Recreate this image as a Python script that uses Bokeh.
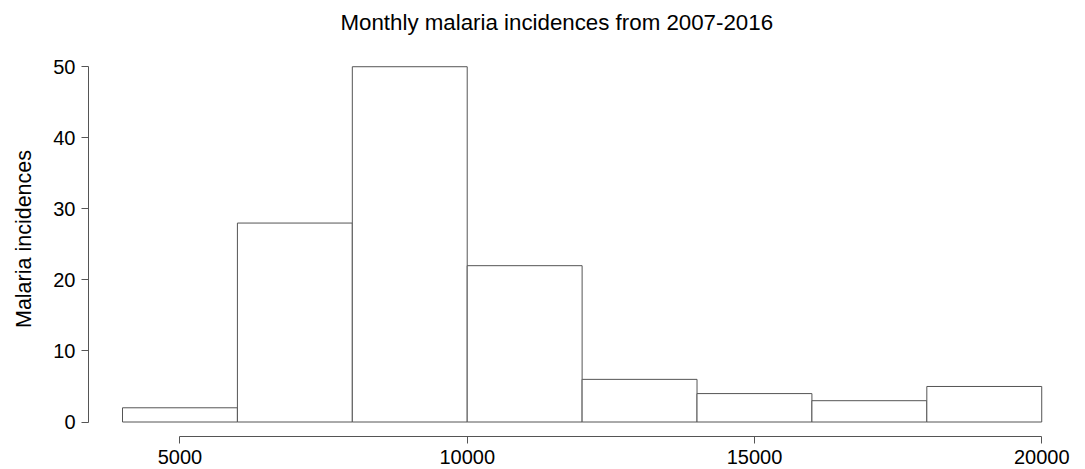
from bokeh.plotting import figure
from bokeh.models import LinearAxis, FixedTicker, Range1d
from bokeh.embed import file_html
from bokeh.resources import INLINE

# Data
bin_edges = [4000, 6000, 8000, 10000, 12000, 14000, 16000, 18000, 20000]
counts = [2, 28, 50, 22, 6, 4, 3, 5]
x_ticks = [5000, 10000, 15000, 20000]
y_ticks = [0, 10, 20, 30, 40, 50]

FONT = "Liberation Sans"
LINE = "#555555"

p = figure(width=1085, height=469, output_backend="svg", toolbar_location=None,
           x_range=Range1d(3408, 20762), y_range=Range1d(-2.04, 53.55),
           x_axis_location=None, y_axis_location=None,
           min_border_left=88, min_border_right=0, min_border_top=0, min_border_bottom=33)
p.outline_line_color = None
p.xgrid.visible = False
p.ygrid.visible = False

p.title.text = "Monthly malaria incidences from 2007-2016"
p.title.text_font = FONT
p.title.text_font_size = "22.3px"
p.title.text_font_style = "normal"
p.title.text_color = "black"
p.title.align = "left"
p.title.offset = 252
p.title.standoff = 14

p.quad(left=bin_edges[:-1], right=bin_edges[1:], bottom=0, top=counts,
       fill_color="white", line_color=LINE, line_width=1)

def style(ax):
    ax.axis_line_color = LINE
    ax.major_tick_line_color = LINE
    ax.major_tick_out = 7
    ax.major_tick_in = 0
    ax.minor_tick_out = 0
    ax.minor_tick_in = 0
    ax.major_label_text_font = FONT
    ax.major_label_text_font_size = "20px"
    ax.major_label_text_color = "black"
    ax.axis_label_text_font = FONT
    ax.axis_label_text_font_size = "21.5px"
    ax.axis_label_text_font_style = "normal"
    ax.axis_label_text_color = "black"

xa = LinearAxis(ticker=FixedTicker(ticks=x_ticks), bounds=(x_ticks[0], x_ticks[-1]))
style(xa)
xa.major_label_standoff = 6
p.add_layout(xa, "below")

ya = LinearAxis(ticker=FixedTicker(ticks=y_ticks), bounds=(y_ticks[0], y_ticks[-1]),
                axis_label="Malaria incidences")
style(ya)
ya.major_label_standoff = 6
ya.major_label_orientation = "horizontal"
ya.axis_label_standoff = 14
p.add_layout(ya, "left")

open("out.html", "w").write(file_html(p, INLINE))
